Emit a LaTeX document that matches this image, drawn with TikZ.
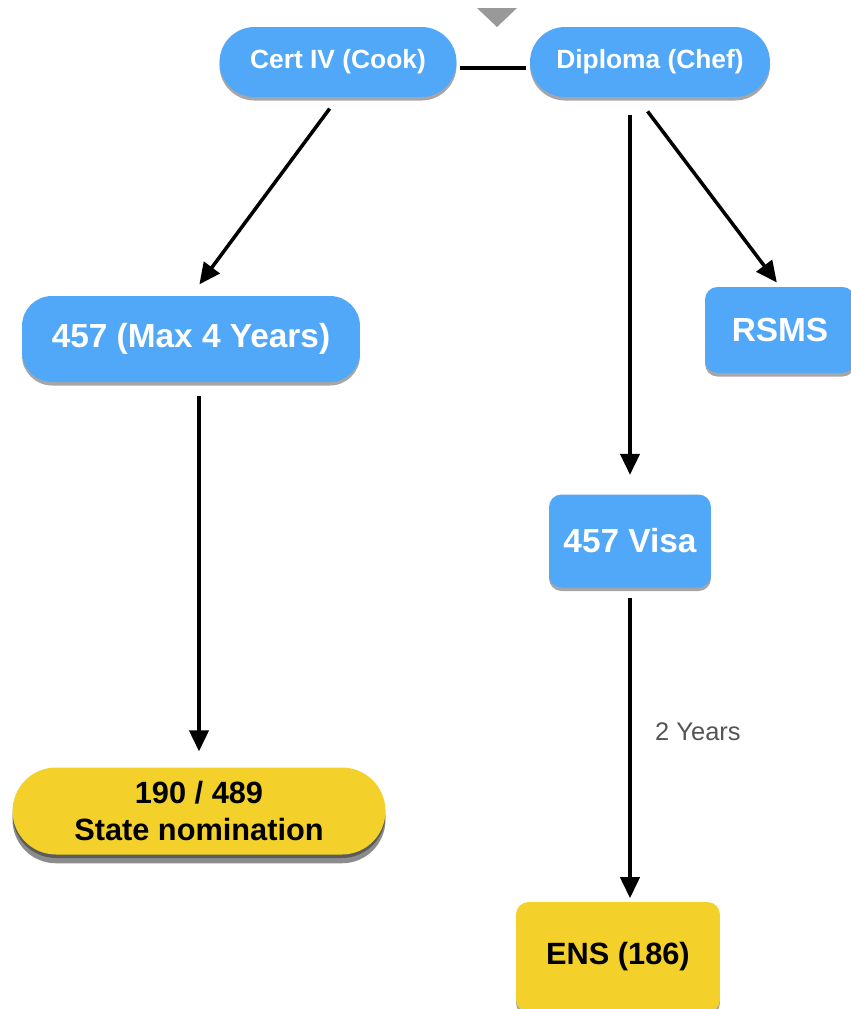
\documentclass[tikz,border=0pt]{standalone}
\usepackage{fontspec}
\setmainfont{Liberation Sans}
\usetikzlibrary{arrows.meta,shadows}
\definecolor{boxblue}{RGB}{82,168,248}
\definecolor{boxyellow}{RGB}{243,209,42}
\definecolor{labelgray}{RGB}{85,85,85}

\tikzset{
  box/.style={inner sep=0pt, align=center,
    drop shadow={shadow xshift=0pt, shadow yshift=-2pt, opacity=0.35, fill=black}},
  bluebox/.style={box, fill=boxblue, text=white, font=\bfseries\fontsize{19}{23}\selectfont},
  yellowbox/.style={box, fill=boxyellow, text=black, font=\bfseries\fontsize{17.5}{21}\selectfont},
  link/.style={line width=2pt, -{Triangle[length=12pt,width=11pt]}, shorten <=8pt, shorten >=8pt},
}

\begin{document}
\begin{tikzpicture}[x=0.02cm, y=-0.02cm]
    \useasboundingbox (0,0) rectangle (851,1009);
    % cut-off tip at the top
    \fill [gray!80] (477,8) -- (517,8) -- (497,27) -- cycle;
    % boxes
    \node [bluebox, font=\bfseries\fontsize{15}{18}\selectfont, minimum width=4.74cm,
      minimum height=1.4cm, rounded corners=0.7cm] (cert) at (338,62) {Cert IV (Cook)};
    \node [bluebox, font=\bfseries\fontsize{15}{18}\selectfont, minimum width=4.8cm,
      minimum height=1.4cm, rounded corners=0.7cm] (dip) at (650,62) {Diploma (Chef)};
    \node [bluebox, minimum width=6.76cm, minimum height=1.72cm, rounded corners=0.6cm]
      (max) at (191,339) {457 (Max 4 Years)};
    \node [bluebox, minimum width=3cm, minimum height=1.72cm, rounded corners=0.25cm]
      (rsms) at (780,330) {RSMS};
    \node [bluebox, minimum width=3.24cm, minimum height=1.86cm, rounded corners=0.25cm]
      (visa) at (630,541) {457 Visa};
    \node [yellowbox, minimum width=7.46cm, minimum height=1.74cm, rounded corners=0.87cm,
      drop shadow={shadow xshift=0pt, shadow yshift=-5pt, opacity=0.45, fill=black}]
      (nom) at (199,811) {190 / 489\\State nomination};
    \node [yellowbox, minimum width=4.08cm, minimum height=2.2cm, rounded corners=0.25cm]
      (ens) at (618,957) {ENS (186)};
    % connectors
    \draw [line width=2pt, shorten <=2pt, shorten >=2pt] ([yshift=-0.12cm]cert.east) -- ([yshift=-0.12cm]dip.west);
    \draw [link] (cert.south) -- (max.north);
    \draw [link, shorten <=10pt, shorten >=3pt] ([xshift=-0.26cm]dip.south) -- (rsms.north);
    \draw [link, shorten <=10pt, shorten >=11pt] (dip.south -| visa.north) -- (visa.north);
    \draw [link, shorten >=9pt] (nom.north |- max.south) -- (nom.north);
    \draw [link, shorten <=6pt, shorten >=2pt] (visa.south) -- (visa.south |- ens.north)
      node [pos=0.46, right=10pt, text=labelgray, font=\fontsize{14.5}{17}\selectfont] {2 Years};
\end{tikzpicture}
\end{document}
